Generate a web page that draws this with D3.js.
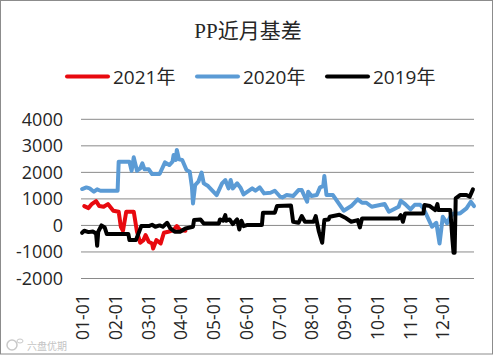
<!DOCTYPE html>
<html><head><meta charset="utf-8">
<script src="https://cdnjs.cloudflare.com/ajax/libs/d3/7.8.5/d3.min.js"></script>
<style>html,body{margin:0;padding:0;background:#fff}svg{display:block}</style>
</head><body><svg id="c" width="497" height="355"></svg>
<script>
const monthTicks = ["01-01","02-01","03-01","04-01","05-01","06-01","07-01","08-01","09-01","10-01","11-01","12-01"];
const yTicks = [4000,3000,2000,1000,0,-1000,-2000];
const legendNames = ["2021年","2020年","2019年"];
const seriesColors = ["#e8090f","#5b9bd5","#000000"];

const days2021 = [3,7,10,14,17,21,25,30,35,37,39,42,49,52,55,58,60,63,66,67,70,74,77,81,86,89,92,97];
const vals2021 = [730,654,805,918,730,704,805,554,516,-50,-201,516,516,-239,-654,-553,-365,-616,-679,-868,-553,-679,-277,-239,-176,-25,-176,-201];

const days2020 = [1,5,8,12,15,18,34,35,45,47,49,52,55,57,59,63,66,73,78,82,85,86,88,89,91,94,98,101,103,104,106,109,112,114,118,126,131,134,137,139,141,145,148,151,159,162,166,170,176,180,185,187,191,197,202,205,210,211,214,219,222,225,226,228,234,244,251,257,261,265,270,282,286,295,297,301,306,310,315,318,321,326,330,333,336,340,343,346,352,358,362,365];
const vals2020 = [1371,1434,1396,1270,1359,1308,1308,2403,2403,2063,2566,2063,2151,2340,2113,2113,1937,1937,2378,2277,2403,2654,2466,2843,2491,2466,2088,2025,1459,830,1522,1648,1988,1585,1484,1145,1585,1711,1396,1711,1396,1585,1434,1170,1396,1308,1434,1208,1233,1308,1082,1057,1145,1107,1333,1333,893,1270,1107,1145,1434,1484,1862,1145,1145,554,730,981,855,855,704,805,516,704,931,805,604,780,780,642,390,-50,101,-679,327,75,327,453,453,642,893,730];

const days2019 = [1,3,7,11,14,15,16,19,22,24,44,45,51,54,56,63,66,69,73,76,80,83,87,92,97,104,105,111,114,128,129,132,134,135,138,141,145,147,149,151,154,168,169,180,182,195,197,202,205,208,216,218,221,224,226,230,231,240,245,251,257,259,261,295,297,299,301,318,319,324,329,331,332,343,345,346,347,348,352,358,361,364];
const vals2019 = [-277,-201,-252,-226,-302,-767,-239,0,-75,-327,-327,-553,-553,-239,-25,-25,25,-50,0,-50,101,-113,-239,-239,-113,-50,201,226,75,75,226,176,390,176,226,50,226,-151,176,-25,13,13,478,478,730,755,138,101,352,138,138,352,-239,-654,201,226,327,403,302,138,201,-75,264,264,390,138,453,453,767,730,579,805,579,579,-553,-1032,-1032,1019,1145,1145,1082,1359];

const svg = d3.select("#c");
const x = d3.scaleLinear().domain([0,365]).range([81,474]);
const y = d3.scaleLinear().domain([-2000,4000]).range([278.5,119.3]);
const cjk = "'Open Sans','Noto Sans CJK SC',sans-serif";

svg.append("rect").attr("x",0.5).attr("y",0.5).attr("width",492).attr("height",353.5)
  .attr("fill","#fff").attr("stroke","#8c8c8c");

svg.append("g").selectAll("line").data(yTicks).join("line")
  .attr("x1",x(0)).attr("x2",x(365)).attr("y1",d=>y(d)).attr("y2",d=>y(d))
  .attr("stroke","#8a8a8a").attr("stroke-width",1);

const yAxis = d3.axisLeft(y).tickValues(yTicks).tickSize(0).tickPadding(0).tickFormat(d=>String(d));
const gy = svg.append("g").attr("transform","translate(63,0)").call(yAxis);
gy.select(".domain").remove();
gy.selectAll("text").attr("font-family",cjk).attr("font-size",18).attr("fill","#262626");

const monthIndex = d3.scaleLinear().domain([0,12]).range([81,474]);
svg.append("g").selectAll("text").data(monthTicks).join("text")
  .attr("transform",(d,i)=>`translate(${monthIndex(i)+2},340) rotate(-90)`)
  .attr("dy","0.35em").attr("font-family",cjk).attr("font-size",17.5).attr("fill","#262626")
  .text(d=>d);

const line = d3.line().x(d=>x(d[0])).y(d=>y(d[1])).curve(d3.curveLinear);
[[days2021,vals2021],[days2020,vals2020],[days2019,vals2019]].forEach((s,i)=>{
  svg.append("path").datum(d3.zip(s[0],s[1])).attr("d",line)
    .attr("fill","none").attr("stroke",seriesColors[i]).attr("stroke-width",4)
    .attr("stroke-linejoin","round").attr("stroke-linecap","round");
});

svg.append("text").attr("x",248).attr("y",38).attr("text-anchor","middle")
  .attr("font-family","'Liberation Serif','Noto Sans CJK SC',serif").attr("font-size",21).attr("fill","#262626")
  .text("PP近月基差");

const lx = [67,197,327];
legendNames.forEach((n,i)=>{
  svg.append("line").attr("x1",lx[i]).attr("x2",lx[i]+41).attr("y1",76.5).attr("y2",76.5)
    .attr("stroke",seriesColors[i]).attr("stroke-width",4).attr("stroke-linecap","round");
  svg.append("text").attr("x",lx[i]+46).attr("y",84).attr("font-family",cjk).attr("font-size",19)
    .attr("fill","#262626").text(n);
});

svg.append("text").attr("x",27).attr("y",350).attr("font-family","'Noto Sans CJK SC',sans-serif")
  .attr("font-size",10).attr("fill","#c4c4c4").text("六盘优期");
svg.append("circle").attr("cx",12).attr("cy",345).attr("r",5).attr("fill","none").attr("stroke","#c9c9c9").attr("stroke-width",1.5);
svg.append("ellipse").attr("cx",20).attr("cy",341).attr("rx",3).attr("ry",2).attr("fill","none").attr("stroke","#c9c9c9").attr("stroke-width",1);
</script></body></html>
